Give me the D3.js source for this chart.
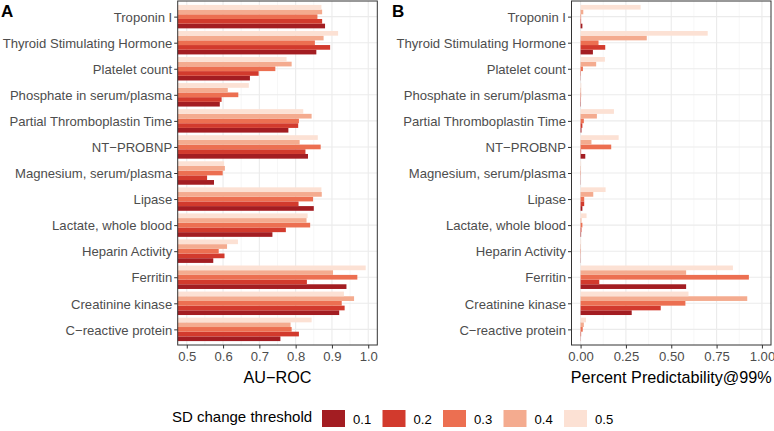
<!DOCTYPE html>
<html><head><meta charset="utf-8">
<script src="https://cdn.jsdelivr.net/npm/d3@7"></script>
<style>body{margin:0;background:#fff}svg{display:block;font-family:"Liberation Sans",Arial,sans-serif}</style>
</head><body><svg id="c" width="774" height="431"></svg>
<script>
const categories = ["Troponin I","Thyroid Stimulating Hormone","Platelet count","Phosphate in serum/plasma","Partial Thromboplastin Time","NT\u2212PROBNP","Magnesium, serum/plasma","Lipase","Lactate, whole blood","Heparin Activity","Ferritin","Creatinine kinase","C\u2212reactive protein"];
const thresholds = ["0.1","0.2","0.3","0.4","0.5"];
const colors = ["#a31d22","#d23a2d","#ec6f51","#f4ab8f","#fce1d4"];
// AU-ROC per threshold (order follows categories)
const auroc_01 = [0.881,0.857,0.674,0.591,0.780,0.834,0.575,0.850,0.736,0.573,0.940,0.920,0.758];
const auroc_02 = [0.873,0.895,0.698,0.596,0.807,0.827,0.556,0.808,0.773,0.604,0.831,0.935,0.809];
const auroc_03 = [0.860,0.853,0.744,0.642,0.809,0.869,0.599,0.848,0.840,0.588,0.970,0.927,0.789];
const auroc_04 = [0.873,0.877,0.789,0.613,0.844,0.811,0.605,0.872,0.830,0.611,0.903,0.961,0.786];
const auroc_05 = [0.871,0.917,0.775,0.671,0.821,0.861,0.603,0.871,0.833,0.641,0.993,0.933,0.844];
// Percent predictability @99%
const pp_01 = [0.010,0.068,0.001,0.002,0.005,0.026,0.001,0.010,0.003,0.001,0.582,0.282,0.001];
const pp_02 = [0.003,0.136,0.002,0.002,0.010,0.003,0.001,0.020,0.005,0.001,0.103,0.442,0.003];
const pp_03 = [0.003,0.099,0.013,0.003,0.018,0.169,0.002,0.020,0.010,0.002,0.928,0.578,0.012];
const pp_04 = [0.015,0.365,0.086,0.003,0.090,0.060,0.002,0.070,0.005,0.002,0.582,0.919,0.018];
const pp_05 = [0.331,0.701,0.134,0.004,0.184,0.210,0.003,0.138,0.033,0.003,0.840,0.595,0.030];
const aurocSeries = [auroc_01,auroc_02,auroc_03,auroc_04,auroc_05];
const ppSeries = [pp_01,pp_02,pp_03,pp_04,pp_05];
const aTicks = [0.5,0.6,0.7,0.8,0.9,1.0];
const bTicks = [0,0.25,0.5,0.75,1.0];

const svg = d3.select("#c");
const yTop = 1, yBot = 345;
const band = d3.scalePoint().domain(categories).range([yTop, yBot]).padding(0.6);
const step = band.step();
const groupH = step*0.9;
const barH = groupH/5;

function panel(x, base, seriesList, ticks, minors, fmt, title, letter, letterX){
  const [x0,x1] = x.range();
  const g = svg.append("g");
  g.append("rect").attr("x",x0).attr("y",yTop).attr("width",x1-x0).attr("height",yBot-yTop).attr("fill","#fff");
  g.selectAll(".mn").data(minors).join("line").attr("x1",d=>x(d)).attr("x2",d=>x(d)).attr("y1",yTop).attr("y2",yBot).attr("stroke","#f2f2f2").attr("stroke-width",0.6);
  g.selectAll(".mj").data(ticks).join("line").attr("x1",d=>x(d)).attr("x2",d=>x(d)).attr("y1",yTop).attr("y2",yBot).attr("stroke","#ebebeb").attr("stroke-width",1.1);
  g.selectAll(".hy").data(categories).join("line").attr("x1",x0).attr("x2",x1).attr("y1",d=>band(d)).attr("y2",d=>band(d)).attr("stroke","#ebebeb").attr("stroke-width",1.1);
  const bx = Math.max(x0, x(base));
  // bars: top = 0.5 (lightest), bottom = 0.1 (darkest)
  seriesList.forEach((vals,si)=>{
    const pos = 4-si;
    g.selectAll(null).data(vals).join("rect")
      .attr("x",bx)
      .attr("y",(d,i)=>band(categories[i]) - groupH/2 + pos*barH)
      .attr("width",d=>Math.max(0,x(d)-bx))
      .attr("height",barH)
      .attr("fill",colors[si]);
  });
  g.append("rect").attr("x",x0).attr("y",yTop).attr("width",x1-x0).attr("height",yBot-yTop).attr("fill","none").attr("stroke","#333").attr("stroke-width",1);
  // y axis
  const ya = g.append("g").attr("transform",`translate(${x0},0)`).call(d3.axisLeft(band).tickSize(3.5).tickPadding(2));
  ya.select(".domain").remove();
  ya.selectAll("line").attr("stroke","#333");
  ya.selectAll("text").attr("fill","#4d4d4d").style("font-size","13.1px").attr("dy","0.36em");
  // x axis
  const xa = g.append("g").attr("transform",`translate(0,${yBot})`).call(d3.axisBottom(x).tickValues(ticks).tickFormat(fmt).tickSize(3.5).tickPadding(3));
  xa.select(".domain").remove();
  xa.selectAll("line").attr("stroke","#333");
  xa.selectAll("text").attr("fill","#4d4d4d").style("font-size","13.1px");
  g.append("text").attr("x",(x0+x1)/2).attr("y",383).attr("text-anchor","middle").style("font-size","16.2px").attr("fill","#000").text(title);
  svg.append("text").attr("x",letterX).attr("y",17).style("font-size","17px").style("font-weight","bold").attr("fill","#000").text(letter);
}

const xA = d3.scaleLinear().domain([0.475,1.025]).range([177.7,377.3]);
panel(xA, 0.475, aurocSeries, aTicks, [0.55,0.65,0.75,0.85,0.95], d3.format(".1f"), "AU\u2212ROC", "A", 1);
const xB = d3.scaleLinear().domain([-0.05,1.05]).range([571.5,771]);
panel(xB, 0, ppSeries, bTicks, [0.125,0.375,0.625,0.875], d3.format(".2f"), "Percent Predictability@99%", "B", 392);

// legend
const lg = svg.append("g");
lg.append("text").attr("x",172).attr("y",422).style("font-size","15px").attr("fill","#000").text("SD change threshold");
const keyX = d3.scalePoint().domain(thresholds).range([322,564]);
lg.selectAll(".k").data(thresholds).join("rect").attr("x",d=>keyX(d)).attr("y",410).attr("width",23).attr("height",17).attr("fill",(d,i)=>colors[i]);
lg.selectAll(".kt").data(thresholds).join("text").attr("x",d=>keyX(d)+31).attr("y",423.5).style("font-size","13.1px").attr("fill","#000").text(d=>d);
</script></body></html>
